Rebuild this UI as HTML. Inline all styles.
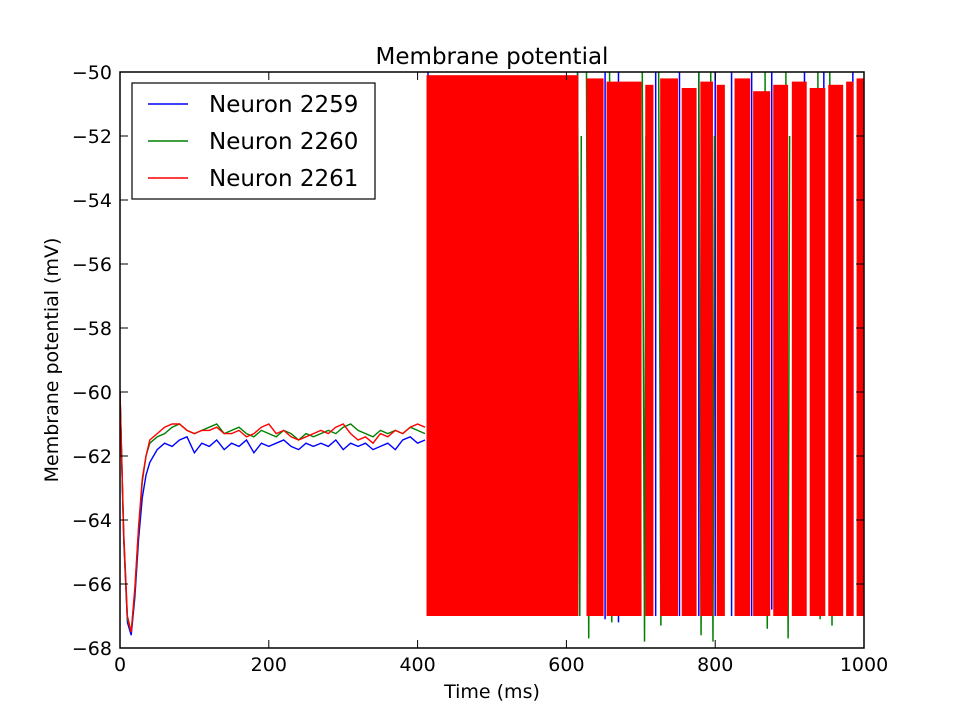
<!DOCTYPE html>
<html><head><meta charset="utf-8"><style>
body{margin:0;background:#fff;}
svg text{font-family:"DejaVu Sans","Liberation Sans",sans-serif;}
</style></head><body>
<svg id="chart" width="960" height="720" xmlns="http://www.w3.org/2000/svg">
<rect width="960" height="720" fill="#fff"/>
<g id="series"></g>
<g id="axes"></g>
</svg>
<script>
const baseTimes=[0,5,10,15,20,25,30,35,40,50,60,70,80,90,100,110,120,130,140,150,160,170,180,190,200,210,220,230,240,250,260,270,280,290,300,310,320,330,340,350,360,370,380,390,400,410];
const blueBase=[-60.0,-64.6,-67.2,-67.6,-66.4,-64.6,-63.3,-62.6,-62.2,-61.8,-61.6,-61.7,-61.5,-61.4,-61.9,-61.6,-61.7,-61.5,-61.8,-61.6,-61.7,-61.5,-61.9,-61.6,-61.7,-61.6,-61.5,-61.7,-61.8,-61.6,-61.7,-61.6,-61.7,-61.5,-61.8,-61.6,-61.7,-61.6,-61.8,-61.7,-61.6,-61.8,-61.5,-61.4,-61.6,-61.5];
const greenBase=[-60.0,-64.5,-67.1,-67.5,-66.2,-64.3,-62.8,-62.0,-61.6,-61.4,-61.3,-61.1,-61.0,-61.2,-61.3,-61.2,-61.1,-61.0,-61.3,-61.2,-61.1,-61.3,-61.4,-61.2,-61.3,-61.4,-61.2,-61.3,-61.5,-61.3,-61.4,-61.3,-61.2,-61.3,-61.1,-61.0,-61.2,-61.3,-61.4,-61.2,-61.3,-61.2,-61.3,-61.1,-61.2,-61.3];
const redBase=[-60.0,-64.4,-67.0,-67.5,-66.1,-64.2,-62.7,-62.0,-61.5,-61.3,-61.1,-61.0,-61.0,-61.2,-61.3,-61.2,-61.2,-61.1,-61.3,-61.3,-61.2,-61.4,-61.3,-61.1,-61.0,-61.3,-61.2,-61.4,-61.5,-61.4,-61.3,-61.2,-61.3,-61.1,-61.0,-61.3,-61.5,-61.4,-61.6,-61.3,-61.4,-61.2,-61.3,-61.1,-61.0,-61.1];
const redBurstStart=[412,627,654,706,726,755,780,802,826,851,878,903,927,952,976,990];
const redBurstEnd=[616,650,701,717,750,775,797,813,847,874,898,923,948,972,986,1000];
const redBurstPeak=[-50.1,-50.2,-50.3,-50.4,-50.2,-50.5,-50.3,-50.4,-50.2,-50.6,-50.4,-50.3,-50.5,-50.4,-50.3,-50.2];
const resetV=-67;
const greenDipTimes=[618,630,661,705,727,781,797,870,898,941,957];
const greenDipValues=[-67.0,-67.7,-67.2,-67.8,-67.3,-67.6,-67.8,-67.4,-67.7,-67.1,-67.3];
const blueSpikeTimes=[414,615,652,670,720,752,778,800,822,849,876,920,946,985];
const blueSpikeTroughs=[-67.0,-67.0,-67.1,-67.2,-67.0,-67.0,-67.0,-67.0,-67.0,-67.0,-66.8,-66.9,-66.8,-67.0];
const xTicks=[0,200,400,600,800,1000];
const yTicks=[-68,-66,-64,-62,-60,-58,-56,-54,-52,-50];

const L=120,R=864,T=72,B=648;
const xs=t=>L+(t-0)/(1000-0)*(R-L);
const ys=v=>B-(v-(-68))/((-50)-(-68))*(B-T);
const NS="http://www.w3.org/2000/svg";
const S=document.getElementById('series'),A=document.getElementById('axes');
function mk(tag,attrs,parent){const e=document.createElementNS(NS,tag);for(const k in attrs)e.setAttribute(k,attrs[k]);parent.appendChild(e);return e;}

const cp=mk('clipPath',{id:'clip'},S);mk('rect',{x:L,y:T,width:R-L,height:B-T},cp);
const g=mk('g',{'clip-path':'url(#clip)'},S);

function baseline(vals,color,name){
  let d='';baseTimes.forEach((t,i)=>{if(i<vals.length)d+=(i?'L':'M')+xs(t).toFixed(1)+','+ys(vals[i]).toFixed(1);});
  const p=mk('path',{d:d,fill:'none',stroke:color,'stroke-width':1.4},g);
  
  
}
baseline(blueBase,'#0000ff','neuron-2259-baseline');
baseline(greenBase,'#008000','neuron-2260-baseline');
baseline(redBase,'#ff0000','neuron-2261-baseline');

blueSpikeTimes.forEach((t,i)=>{
  const l=mk('line',{x1:xs(t),x2:xs(t),y1:ys(-50),y2:ys(blueSpikeTroughs[i]),stroke:'#0000ff','stroke-width':1.5},g);
  
  
});
greenDipTimes.forEach((t,i)=>{
  const d='M'+xs(t-3)+','+ys(-50)+'L'+xs(t)+','+ys(greenDipValues[i])+'L'+xs(t+2)+','+ys(-52);
  const p=mk('path',{d:d,fill:'none',stroke:'#008000','stroke-width':1.5},g);
  
  
});
redBurstStart.forEach((s,i)=>{
  const r=mk('rect',{x:xs(s),y:ys(redBurstPeak[i]),width:xs(redBurstEnd[i])-xs(s),height:ys(resetV)-ys(redBurstPeak[i]),fill:'#ff0000'},g);
  
  
});

mk('rect',{x:L,y:T,width:R-L,height:B-T,fill:'none',stroke:'#000','stroke-width':1.5},A);
xTicks.forEach(t=>{
  const x=xs(t);
  mk('line',{x1:x,x2:x,y1:B,y2:B-8,stroke:'#000'},A);
  mk('line',{x1:x,x2:x,y1:T,y2:T+8,stroke:'#000'},A);
  const tx=mk('text',{x:x,y:B+23,'text-anchor':'middle','font-size':19},A);tx.textContent=t;
  
  
});
yTicks.forEach(v=>{
  const y=ys(v);
  mk('line',{x1:L,x2:L+8,y1:y,y2:y,stroke:'#000'},A);
  mk('line',{x1:R,x2:R-8,y1:y,y2:y,stroke:'#000'},A);
  const tx=mk('text',{x:L-8,y:y+7,'text-anchor':'end','font-size':19},A);tx.textContent='\u2212'+Math.abs(v);
  
  
});
const title=mk('text',{x:492,y:64,'text-anchor':'middle','font-size':23},A);title.textContent='Membrane potential';


const xl=mk('text',{x:492,y:698,'text-anchor':'middle','font-size':19},A);xl.textContent='Time (ms)';


const yl=mk('text',{x:58,y:360,'text-anchor':'middle','font-size':19,transform:'rotate(-90 58 360)'},A);yl.textContent='Membrane potential (mV)';



const lg=mk('g',{},A);


mk('rect',{x:132,y:83,width:243,height:116,fill:'#fff',stroke:'#000','stroke-width':1.2},lg);
const names=['Neuron 2259','Neuron 2260','Neuron 2261'],cols=['#0000ff','#008000','#ff0000'];
names.forEach((n,i)=>{
  const y=104+i*37;
  const ln=mk('line',{x1:148,x2:188,y1:y,y2:y,stroke:cols[i],'stroke-width':1.5},lg);
  
  
  const t=mk('text',{x:209,y:y+8,'font-size':23},lg);t.textContent=n;
  
  
});
</script>
</body></html>
